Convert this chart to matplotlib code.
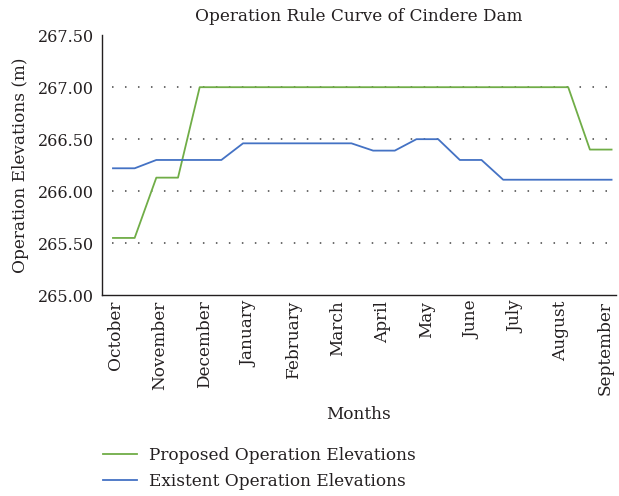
import numpy as np
import matplotlib
matplotlib.use("Agg")
import matplotlib.pyplot as plt

plt.rcParams['font.family'] = ['DejaVu Serif']

# Dane: 24 punkty (co pol miesiaca), od pazdziernika do wrzesnia
months = ["October", "November", "December", "January", "February", "March",
          "April", "May", "June", "July", "August", "September"]

proposed = [265.55, 265.55, 266.13, 266.13,
            267.00, 267.00, 267.00, 267.00, 267.00, 267.00, 267.00, 267.00,
            267.00, 267.00, 267.00, 267.00, 267.00, 267.00, 267.00, 267.00,
            267.00, 267.00, 266.40, 266.40]

existent = [266.22, 266.22, 266.30, 266.30, 266.30, 266.30,
            266.46, 266.46, 266.46, 266.46, 266.46, 266.46,
            266.39, 266.39, 266.50, 266.50, 266.30, 266.30,
            266.11, 266.11, 266.11, 266.11, 266.11, 266.11]

y_ticks = [265.0, 265.5, 266.0, 266.5, 267.0, 267.5]

x = np.arange(len(proposed)) * 0.5

fs = 12.2
txt = '#231f20'

fig = plt.figure(figsize=(6.19, 4.96), dpi=100)
ax = fig.add_axes([0.165, 0.405, 0.83, 0.524])

ax.plot(x, proposed, color='#70AD47', linewidth=1.3, label="Proposed Operation Elevations")
ax.plot(x, existent, color='#4472C4', linewidth=1.3, label="Existent Operation Elevations")

# siatka kropkowana
for yv in y_ticks[1:-1]:
    ax.axhline(yv, xmin=0.02, color='#444444', linewidth=1.1, linestyle=(0, (1, 7.5)), zorder=0)

ax.set_xlim(-0.25, 11.6)
ax.set_ylim(265.0, 267.5)
ax.set_yticks(y_ticks)
ax.set_yticklabels([f"{v:.2f}" for v in y_ticks], fontsize=11.5)
ax.set_xticks(np.linspace(0.05, 11.35, 12))
ax.set_xticklabels(months, rotation=90, fontsize=fs)
ax.tick_params(axis='x', length=0, pad=4, colors=txt)
ax.tick_params(axis='y', length=0, pad=6, colors=txt)

for s in ['top', 'right']:
    ax.spines[s].set_visible(False)
for s in ['left', 'bottom']:
    ax.spines[s].set_color(txt)
    ax.spines[s].set_linewidth(1.0)

ax.set_title("Operation Rule Curve of Cindere Dam", fontsize=fs, color=txt, pad=10)
ax.set_ylabel("Operation Elevations (m)", fontsize=fs, color=txt, labelpad=6)
ax.set_xlabel("Months", fontsize=fs, color=txt, labelpad=8)

fig.legend(loc='upper left', bbox_to_anchor=(0.166, 0.099), frameon=False,
           borderpad=0, borderaxespad=0,
           fontsize=fs, handlelength=2.05, handletextpad=0.7, labelspacing=0.55,
           labelcolor=txt)

fig.savefig("out.png", dpi=100)
